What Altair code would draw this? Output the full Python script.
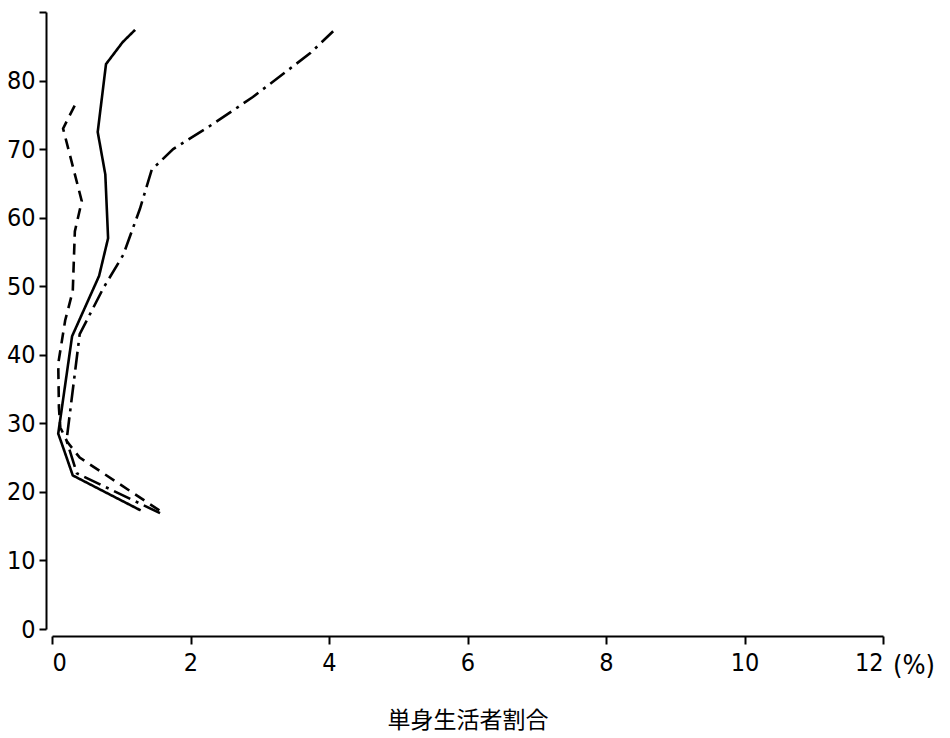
import altair as alt
import pandas as pd

# Solid series
solid_age = [87.4, 85.6, 82.4, 72.5, 66.3, 57.0, 51.5, 42.7, 28.5, 26.5, 22.4, 17.3]
solid_pct = [1.20, 1.02, 0.78, 0.66, 0.77, 0.81, 0.68, 0.29, 0.09, 0.16, 0.30, 1.28]

# Dashed series
dash_age = [77.0, 73.0, 62.4, 58.0, 49.3, 45.0, 38.7, 32.3, 29.4, 27.3, 25.0, 17.3]
dash_pct = [0.36, 0.16, 0.43, 0.33, 0.30, 0.19, 0.09, 0.10, 0.12, 0.22, 0.40, 1.55]

# Dash-dot series
dd_age = [87.2, 84.0, 77.6, 73.7, 70.0, 67.0, 61.3, 54.6, 49.7, 43.0, 27.5, 22.7, 16.9]
dd_pct = [4.06, 3.73, 2.90, 2.33, 1.75, 1.44, 1.27, 1.03, 0.74, 0.40, 0.21, 0.36, 1.56]

x_ticks = [0, 2, 4, 6, 8, 10, 12]
y_ticks = [0, 5, 10, 15, 20, 25, 30, 35, 40, 45, 50, 55, 60, 65, 70, 75, 80, 85, 90]

rows = []
for name, ages, pcts in [("solid", solid_age, solid_pct),
                         ("dash", dash_age, dash_pct),
                         ("dashdot", dd_age, dd_pct)]:
    for a, p in zip(ages, pcts):
        rows.append({"series": name, "age": a, "pct": p})
df = pd.DataFrame(rows)

LABEL_FONT = "'Liberation Sans Narrow', 'DejaVu Sans Condensed', sans-serif"

xscale = alt.Scale(domain=[0, 12], nice=False, zero=False)
yscale = alt.Scale(domain=[0, 90], nice=False, zero=False)

x_axis = alt.Axis(values=x_ticks, format="d", grid=False, offset=7, domainColor="black",
                  domainWidth=2, tickColor="black", tickWidth=2, tickSize=8,
                  labelFont=LABEL_FONT, labelFontSize=25, labelColor="black",
                  labelPadding=6, title="単身生活者割合", titleFont="Noto Sans CJK JP",
                  titleFontSize=23, titleFontWeight="normal", titleColor="black",
                  titlePadding=34)
y_axis = alt.Axis(values=y_ticks, format="d", grid=False, offset=6, domainColor="black",
                  domainWidth=2, tickColor="black", tickWidth=2, tickSize=7,
                  labelFont=LABEL_FONT, labelFontSize=25, labelColor="black",
                  labelPadding=4,
                  labelExpr="(datum.value % 10 == 0 && datum.value < 90) ? datum.label : ''",
                  title=None)

def series_line(name, dash):
    return alt.Chart(df[df.series == name]).mark_line(
        color="black", strokeWidth=2.6, strokeDash=dash
    ).encode(
        x=alt.X("pct:Q", scale=xscale, axis=x_axis),
        y=alt.Y("age:Q", scale=yscale, axis=y_axis),
        order=alt.Order("age:Q"),
    )

l1 = series_line("solid", [1, 0])
l2 = series_line("dash", [11, 7])
l3 = series_line("dashdot", [18, 6, 3, 6])

pct_label = alt.Chart(pd.DataFrame({"pct": [12], "age": [0], "t": ["(%)"]})).mark_text(
    font=LABEL_FONT, fontSize=27, color="black", align="left", baseline="middle",
    dx=10, dy=37
).encode(x=alt.X("pct:Q", scale=xscale), y=alt.Y("age:Q", scale=yscale), text="t:N")

chart = alt.layer(l1, l2, l3, pct_label).properties(
    width=831, height=617,
    autosize=alt.AutoSizeParams(type="none"),
    padding={"left": 52, "top": 12, "right": 67, "bottom": 109},
).configure_view(stroke=None)

chart.save("out.html", embed_options={"renderer": "svg", "actions": False})
